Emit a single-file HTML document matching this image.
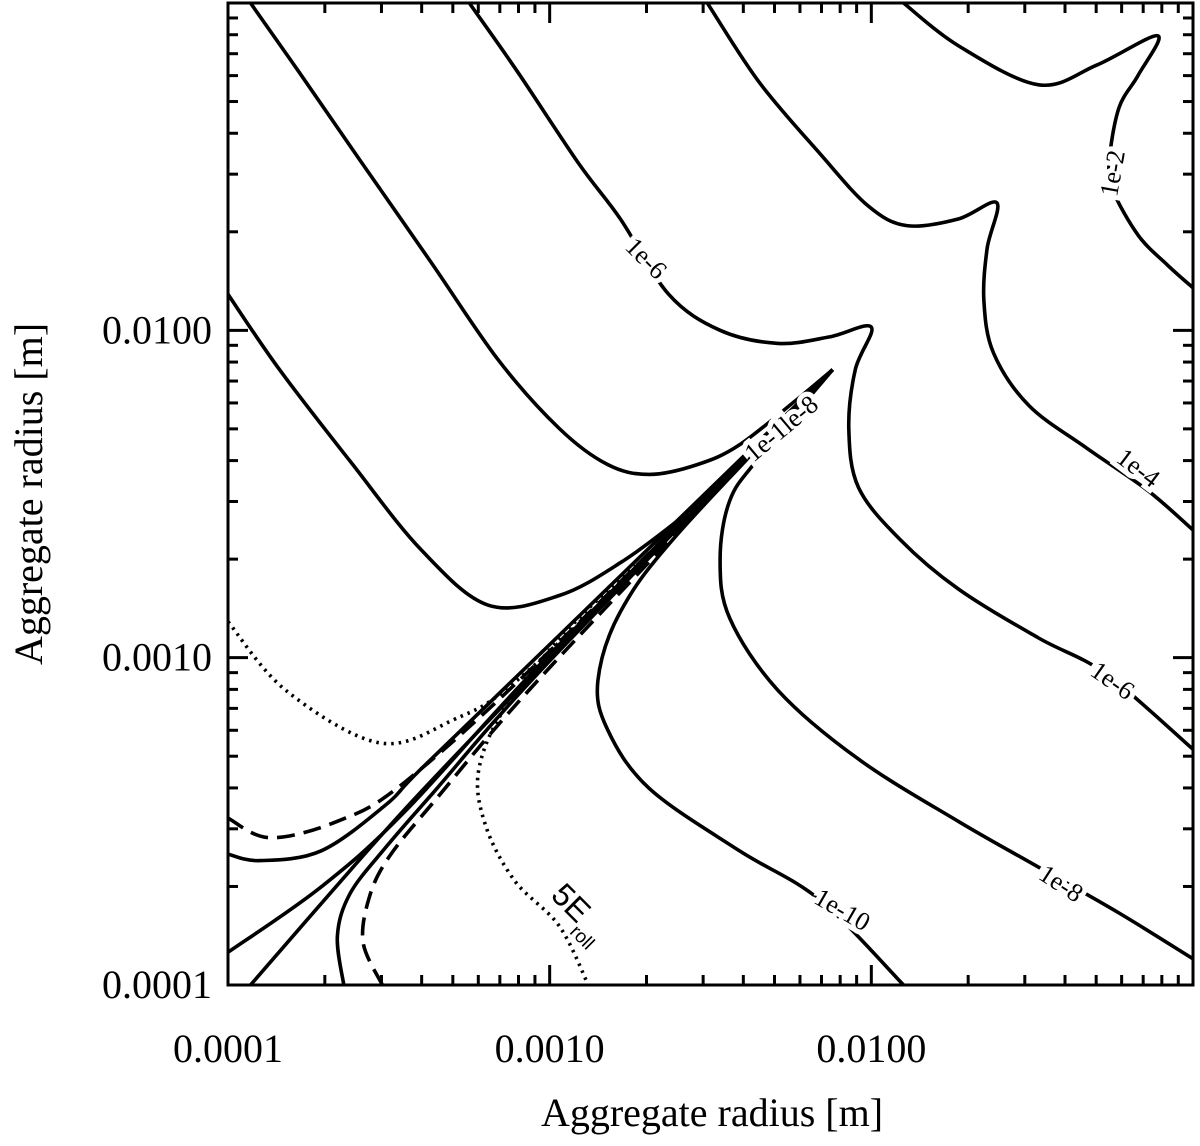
<!DOCTYPE html>
<html><head><meta charset="utf-8"><style>
html,body{margin:0;padding:0;background:#fff;}
svg{display:block;font-family:"Liberation Serif",serif;}
.lbl{font-size:26px;paint-order:stroke;stroke:#fff;stroke-width:10px;fill:#000;}
</style></head><body>
<svg id="chart" width="1200" height="1146" viewBox="0 0 1200 1146">
<g id="plot"></g>
</svg>
<script>
// axis ranges (log10)
const xDomain=[-4,-1];
const yDomain=[-4,-1];
const xTickLabels=["0.0001","0.0010","0.0100"];
const yTickLabels=["0.0001","0.0010","0.0100"];
// contour curves: [log10 x, log10 y]
const curve1e2=[[-1.90,-1.00],[-1.73,-1.13],[-1.48,-1.25],[-1.30,-1.19],[-1.11,-1.10],[-1.17,-1.22],[-1.23,-1.32],[-1.26,-1.48],[-1.25,-1.57],[-1.17,-1.71],[-1.08,-1.80],[-1.00,-1.87]];
const curve1e4=[[-2.51,-1.00],[-2.35,-1.24],[-2.16,-1.46],[-2.01,-1.62],[-1.89,-1.68],[-1.73,-1.66],[-1.61,-1.61],[-1.64,-1.75],[-1.65,-1.91],[-1.62,-2.07],[-1.51,-2.23],[-1.33,-2.36],[-1.14,-2.49],[-1.00,-2.61]];
const curve1e6=[[-3.25,-1.00],[-3.10,-1.21],[-2.91,-1.49],[-2.78,-1.66],[-2.63,-1.89],[-2.47,-2.00],[-2.29,-2.04],[-2.13,-2.02],[-2.00,-1.99],[-2.05,-2.12],[-2.07,-2.30],[-2.04,-2.48],[-1.91,-2.64],[-1.73,-2.79],[-1.48,-2.94],[-1.27,-3.05],[-1.00,-3.28]];
const curveB=[[-3.93,-1.00],[-3.78,-1.21],[-3.59,-1.48],[-3.37,-1.79],[-3.16,-2.09],[-2.97,-2.30],[-2.82,-2.41],[-2.69,-2.44],[-2.54,-2.41],[-2.41,-2.35],[-2.23,-2.21],[-2.12,-2.12]];
const curveA=[[-4.00,-1.89],[-3.84,-2.12],[-3.62,-2.40],[-3.40,-2.67],[-3.19,-2.84],[-2.97,-2.81],[-2.78,-2.71],[-2.60,-2.58],[-2.47,-2.47],[-2.12,-2.12]];
const curve1e8=[[-2.12,-2.12],[-2.35,-2.39],[-2.44,-2.52],[-2.47,-2.70],[-2.44,-2.88],[-2.29,-3.10],[-2.04,-3.31],[-1.73,-3.50],[-1.48,-3.64],[-1.23,-3.78],[-1.00,-3.92]];
const curve1e10=[[-2.12,-2.12],[-2.60,-2.62],[-2.78,-2.86],[-2.85,-3.07],[-2.82,-3.22],[-2.69,-3.40],[-2.41,-3.59],[-2.16,-3.74],[-1.90,-4.00]];
const dotRoll=[[-2.12,-2.12],[-2.60,-2.60],[-2.91,-2.88],[-3.13,-3.14],[-3.22,-3.34],[-3.20,-3.51],[-3.11,-3.68],[-2.97,-3.82],[-2.88,-4.00]];
const dotUpper=[[-4.00,-2.89],[-3.82,-3.10],[-3.53,-3.26],[-3.30,-3.19],[-3.09,-3.06],[-2.60,-2.60],[-2.12,-2.12]];
const dashLeft=[[-4.00,-3.49],[-3.87,-3.55],[-3.66,-3.50],[-3.45,-3.38],[-3.00,-2.98],[-2.12,-2.12]];
const solidLeft=[[-4.00,-3.60],[-3.90,-3.62],[-3.71,-3.59],[-3.51,-3.45],[-3.40,-3.34],[-3.00,-2.96],[-2.12,-2.12]];
const solidDiag1=[[-4.00,-3.90],[-3.71,-3.70],[-3.45,-3.47],[-3.00,-2.99],[-2.12,-2.12]];
const solidDiag2=[[-3.93,-4.00],[-3.62,-3.65],[-3.40,-3.41],[-3.00,-3.00],[-2.12,-2.12]];
const solidInner=[[-3.64,-4.00],[-3.66,-3.85],[-3.62,-3.72],[-3.51,-3.58],[-3.36,-3.41],[-3.00,-3.01],[-2.12,-2.12]];
const dashInner=[[-3.52,-4.00],[-3.58,-3.87],[-3.56,-3.73],[-3.50,-3.61],[-3.36,-3.44],[-3.00,-3.03],[-2.12,-2.12]];
const seriesList=[
 ["contour-1e-2",curve1e2,""],["contour-1e-4",curve1e4,""],["contour-1e-6",curve1e6,""],
 ["contour-b",curveB,""],["contour-a",curveA,""],["contour-1e-8",curve1e8,""],["contour-1e-10",curve1e10,""],
 ["dotted-5e-roll",dotRoll,"2.5 5"],["dotted-upper",dotUpper,"2.5 5"],["dashed-left",dashLeft,"18 9"],
 ["solid-left",solidLeft,""],["solid-diag-1",solidDiag1,""],["solid-diag-2",solidDiag2,""],
 ["solid-inner",solidInner,""],["dashed-inner",dashInner,"18 9"]];
const labelText=["1e-2","1e-4","1e-6","1e-6","1e-8","1e-10","1e-1le-8"];
const labelPos=[[-1.25,-1.52],[-1.17,-2.42],[-2.70,-1.78],[-1.25,-3.07],[-1.41,-3.69],[-2.09,-3.77],[-2.28,-2.30]];
const labelRot=[-80,37,45,35,33,30,-40];

const L=228,R=1193,T=3,B=985;
const sx=v=>L+(v-xDomain[0])/(xDomain[1]-xDomain[0])*(R-L);
const sy=v=>B-(v-yDomain[0])/(yDomain[1]-yDomain[0])*(B-T);
const NS="http://www.w3.org/2000/svg";
const g=document.getElementById('plot');
function mk(t,a){const e=document.createElementNS(NS,t);for(const k in a)e.setAttribute(k,a[k]);return e;}
function pathD(pts){
 const p=pts.map(q=>[sx(q[0]),sy(q[1])]);
 let d="M"+p[0][0].toFixed(1)+","+p[0][1].toFixed(1);
 for(let i=0;i<p.length-1;i++){
  const p0=p[i-1]||p[i],p1=p[i],p2=p[i+1],p3=p[i+2]||p2;
  const c1=[p1[0]+(p2[0]-p0[0])/6,p1[1]+(p2[1]-p0[1])/6];
  const c2=[p2[0]-(p3[0]-p1[0])/6,p2[1]-(p3[1]-p1[1])/6];
  d+="C"+c1.map(v=>v.toFixed(1))+" "+c2.map(v=>v.toFixed(1))+" "+p2.map(v=>v.toFixed(1));
 }
 return d;
}
const clip=mk('clipPath',{id:'cp'});clip.appendChild(mk('rect',{x:L,y:T,width:R-L,height:B-T}));
document.getElementById('chart').appendChild(clip);
const cg=mk('g',{'clip-path':'url(#cp)'});g.appendChild(cg);
seriesList.forEach(s=>{
 const e=mk('path',{d:pathD(s[1]),fill:'none',stroke:'#000','stroke-width':3.6,'stroke-linejoin':'round'});
 if(s[2])e.setAttribute('stroke-dasharray',s[2]);
 
 
 cg.appendChild(e);
});
labelText.forEach((t,i)=>{
 const x=sx(labelPos[i][0]),y=sy(labelPos[i][1]);
 const e=mk('text',{x:x,y:y,'text-anchor':'middle','dominant-baseline':'central',class:'lbl',transform:`rotate(${labelRot[i]} ${x} ${y})`});
 e.textContent=t;
 
 
 g.appendChild(e);
});
const rl=mk('text',{x:sx(-3.0),y:sy(-3.73),'font-family':'"Liberation Sans",sans-serif','font-size':32,transform:`rotate(45 ${sx(-3.0)} ${sy(-3.73)})`});
rl.innerHTML='5E<tspan font-size="19" dy="12">roll</tspan>';


g.appendChild(rl);
const fr=mk('rect',{x:L,y:T,width:R-L,height:B-T,fill:'none',stroke:'#000','stroke-width':3});


g.appendChild(fr);
for(let dec=-4;dec<-1;dec++){for(let m=1;m<10;m++){
 const v=dec+Math.log10(m);const len=m===1?20:10;
 const X=sx(v),Y=sy(v);
 [[X,B,X,B-len],[X,T,X,T+len],[L,Y,L+len,Y],[R,Y,R-len,Y]].forEach(c=>{
  const e=mk('line',{x1:c[0],y1:c[1],x2:c[2],y2:c[3],stroke:'#000','stroke-width':3});
  
  
  g.appendChild(e);});
}}
xTickLabels.forEach((t,i)=>{
 const e=mk('text',{x:sx(xDomain[0]+i),y:1062,'text-anchor':'middle','font-size':40});e.textContent=t;
 
 
 g.appendChild(e);
});
yTickLabels.forEach((t,i)=>{
 const e=mk('text',{x:212,y:sy(yDomain[0]+i)+13,'text-anchor':'end','font-size':40});e.textContent=t;
 
 
 g.appendChild(e);
});
const xt=mk('text',{x:712,y:1126,'text-anchor':'middle','font-size':40});xt.textContent='Aggregate radius [m]';


g.appendChild(xt);
const yt=mk('text',{x:42,y:494,'text-anchor':'middle','font-size':40,transform:'rotate(-90 42 494)'});yt.textContent='Aggregate radius [m]';


g.appendChild(yt);
</script>
</body></html>
